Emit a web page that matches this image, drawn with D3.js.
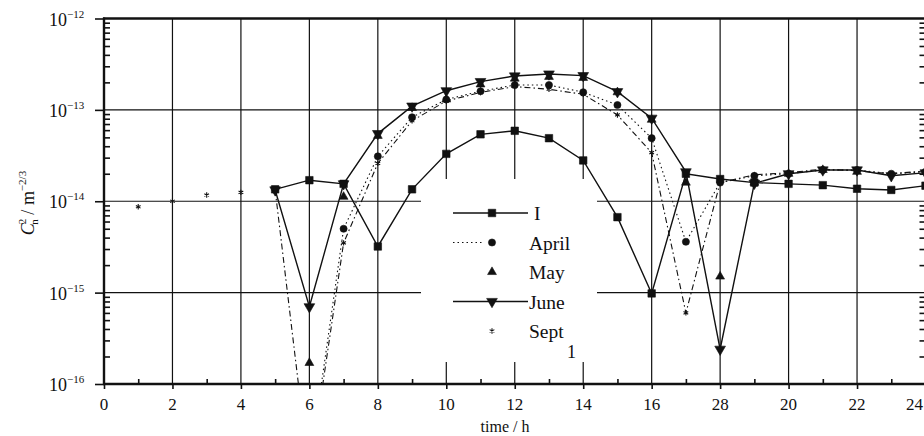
<!DOCTYPE html>
<html>
<head>
<meta charset="utf-8">
<script src="https://cdn.jsdelivr.net/npm/d3@7"></script>
<style>
  html, body { margin: 0; padding: 0; background: #fff; }
  svg { display: block; }
  text { font-family: "Liberation Serif", "DejaVu Serif", serif; fill: #111; }
</style>
</head>
<body>
<svg id="chart" width="924" height="436"></svg>
<script>
// Hour of day for each sample
const hours = d3.range(1, 25);

// Cn^2 (m^-2/3) per hour; null where no sample was taken
const seriesI    = [null, null, null, null, 1.35e-14, 1.7e-14, 1.55e-14, 3.2e-15, 1.35e-14, 3.3e-14, 5.4e-14, 5.9e-14, 4.9e-14, 2.8e-14, 6.7e-15, 9.8e-16, 2.0e-14, 1.75e-14, 1.6e-14, 1.55e-14, 1.5e-14, 1.37e-14, 1.33e-14, 1.48e-14];
const seriesApr  = [null, null, null, null, null, 1.2e-17, 5.0e-15, 3.1e-14, 8.3e-14, 1.3e-13, 1.6e-13, 1.87e-13, 1.87e-13, 1.56e-13, 1.13e-13, 4.9e-14, 3.6e-15, 1.6e-14, 1.9e-14, 2.0e-14, 2.2e-14, 2.2e-14, 2.0e-14, 2.1e-14];
const seriesMay  = [null, null, null, null, null, 1.7e-16, 1.12e-14, 5.2e-14, 1.05e-13, 1.3e-13, 1.9e-13, 2.2e-13, 2.3e-13, 2.24e-13, 1.56e-13, 7.8e-14, 1.6e-14, 1.5e-15, 1.6e-14, 2.0e-14, 2.2e-14, 2.1e-14, null, null];
const seriesJune = [null, null, null, null, 1.33e-14, 7.0e-16, 1.55e-14, 5.5e-14, 1.1e-13, 1.62e-13, 2.04e-13, 2.35e-13, 2.47e-13, 2.37e-13, 1.58e-13, 8.1e-14, 2.1e-14, 2.4e-16, 1.57e-14, 2.0e-14, 2.2e-14, 2.2e-14, 1.9e-14, 2.05e-14];
const seriesSept = [8.7e-15, 1.0e-14, 1.17e-14, 1.25e-14, 1.33e-14, 1.0e-17, 3.5e-15, 2.6e-14, 7.6e-14, 1.25e-13, 1.55e-13, 1.8e-13, 1.68e-13, 1.48e-13, 8.8e-14, 3.4e-14, 6.0e-16, 1.6e-14, 1.95e-14, 2.05e-14, 2.25e-14, 2.15e-14, 2.0e-14, 2.15e-14];

const seriesNames = ["I", "April", "May", "June", "Sept"];

// Axis ticks
const xTickValues = [0, 2, 4, 6, 8, 10, 12, 14, 16, 18, 20, 22, 24];
const xTickLabels = ["0", "2", "4", "6", "8", "10", "12", "14", "16", "28", "20", "22", "24"];
const yTickExponents = [-16, -15, -14, -13, -12];

const svg = d3.select("#chart");
const plotL = 104, plotR = 925.5, plotT = 18.5, plotB = 384;

const x = d3.scaleLinear().domain([0, 24]).range([plotL, plotR]);
const y = d3.scaleLog().domain([1e-16, 1e-12]).range([plotB, plotT]);

const styles = {
  "I":     { line: "solid",   legendLine: true,  symbol: d3.symbolSquare,   size: 56, fill: "#111" },
  "April": { line: "dotted",  legendLine: true,  symbol: d3.symbolCircle,   size: 40, fill: "#111" },
  "May":   { line: null,      legendLine: false, symbol: d3.symbolTriangle, size: 34, fill: "#111" },
  "June":  { line: "solid",   legendLine: true,  symbol: "invTriangle",     size: 50, fill: "#111" },
  "Sept":  { line: "dashdot", legendLine: false, symbol: d3.symbolAsterisk, size: 20, fill: "none" }
};
const seriesValues = [seriesI, seriesApr, seriesMay, seriesJune, seriesSept];
const series = seriesNames.map((name, i) => ({
  name,
  points: hours.map((h, j) => ({ h, v: seriesValues[i][j] })).filter(d => d.v !== null)
}));

// Grid: even hours and decades
const grid = svg.append("g").attr("stroke", "#111").attr("stroke-width", 1.2);
grid.selectAll("line.v").data(xTickValues.filter(v => v > 0)).join("line")
  .attr("x1", d => x(d)).attr("x2", d => x(d)).attr("y1", plotT).attr("y2", plotB);
grid.selectAll("line.h").data(yTickExponents.slice(1, -1)).join("line")
  .attr("x1", plotL).attr("x2", plotR).attr("y1", d => y(Math.pow(10, d))).attr("y2", d => y(Math.pow(10, d)));

// Legend panel sits over the grid
svg.append("rect").attr("x", 421).attr("y", 179).attr("width", 176).attr("height", 183).attr("fill", "#fff");

// Axes
const minorY = [];
for (let e = -16; e < -12; e++) for (let k = 2; k <= 9; k++) minorY.push(k * Math.pow(10, e));

const yMajor = svg.append("g").attr("transform", `translate(${plotL},0)`)
  .call(d3.axisLeft(y).tickValues(yTickExponents.map(e => Math.pow(10, e))).tickSize(9).tickFormat(""));
const yMinor = svg.append("g").attr("transform", `translate(${plotL},0)`)
  .call(d3.axisLeft(y).tickValues(minorY).tickSize(-6).tickFormat(""));
const yMinorR = svg.append("g").attr("transform", `translate(${plotR},0)`)
  .call(d3.axisRight(y).tickValues(minorY).tickSize(-6).tickFormat(""));
const xMajor = svg.append("g").attr("transform", `translate(0,${plotB})`)
  .call(d3.axisBottom(x).tickValues(xTickValues).tickSize(5).tickFormat(""));
const xMinor = svg.append("g").attr("transform", `translate(0,${plotB})`)
  .call(d3.axisBottom(x).tickValues(d3.range(1, 24, 2)).tickSize(-5).tickFormat(""));
[yMajor, yMinor, yMinorR, xMajor, xMinor].forEach(g => {
  g.select(".domain").remove();
  g.selectAll("line").attr("stroke", "#111").attr("stroke-width", 1.6);
});

// Frame
svg.append("line").attr("x1", plotL).attr("x2", plotL).attr("y1", plotT - 1).attr("y2", plotB + 1)
  .attr("stroke", "#111").attr("stroke-width", 2.4);
svg.append("line").attr("x1", plotL - 1).attr("x2", plotR).attr("y1", plotB).attr("y2", plotB)
  .attr("stroke", "#111").attr("stroke-width", 2.4);
svg.append("line").attr("x1", plotL - 1).attr("x2", plotR).attr("y1", plotT).attr("y2", plotT)
  .attr("stroke", "#111").attr("stroke-width", 2.4);

// Tick labels (the last one is kept inside the page edge)
svg.append("g").selectAll("text").data(xTickValues).join("text")
  .attr("x", d => d === 24 ? 923 : x(d)).attr("y", 410)
  .attr("text-anchor", d => d === 24 ? "end" : "middle").attr("font-size", 17)
  .text((d, i) => xTickLabels[i]);

const yl = svg.append("g").selectAll("text").data(yTickExponents).join("text")
  .attr("x", 49).attr("y", d => y(Math.pow(10, d)) + 7).attr("font-size", 18);
yl.append("tspan").text("10");
yl.append("tspan").attr("dy", -8).attr("font-size", 11).text(d => "\u2212" + Math.abs(d));

// Axis titles
svg.append("text").attr("x", 505).attr("y", 432).attr("text-anchor", "middle").attr("font-size", 16)
  .text("time / h");
const yt = svg.append("text").attr("transform", "translate(34,203) rotate(-90)")
  .attr("text-anchor", "middle").attr("font-size", 18);
yt.append("tspan").attr("font-style", "italic").text("C");
yt.append("tspan").attr("font-size", 11).attr("dy", -8).attr("dx", -1).text("2");
yt.append("tspan").attr("font-size", 11).attr("dy", 12).attr("dx", -6).text("n");
yt.append("tspan").attr("dy", -4).text(" / m");
yt.append("tspan").attr("font-size", 11).attr("dy", -8).text("\u22122/3");

// Data
svg.append("defs").append("clipPath").attr("id", "plotClip")
  .append("rect").attr("x", plotL).attr("y", plotT).attr("width", plotR - plotL).attr("height", plotB - plotT);
const plot = svg.append("g").attr("clip-path", "url(#plotClip)");

const dashFor = { solid: null, dotted: "1.5,3", dashdot: "6,3,1.5,3" };
const lineGen = d3.line().x(d => x(d.h)).y(d => y(d.v));

function symbolPath(st) {
  if (st.symbol === "invTriangle") return d3.symbol(d3.symbolTriangle, st.size)();
  return d3.symbol(st.symbol, st.size)();
}

series.forEach(s => {
  const st = styles[s.name];
  if (st.line) {
    const pts = s.name === "Sept" ? s.points.filter(d => d.h >= 5) : s.points;
    plot.append("path").datum(pts)
      .attr("d", lineGen).attr("fill", "none").attr("stroke", "#111")
      .attr("stroke-width", st.line === "solid" ? 1.4 : 1.1)
      .attr("stroke-dasharray", dashFor[st.line]);
  }
});
series.forEach(s => {
  const st = styles[s.name];
  plot.append("g").selectAll("path").data(s.points).join("path")
    .attr("d", symbolPath(st))
    .attr("transform", d => `translate(${x(d.h)},${y(d.v)})` + (st.symbol === "invTriangle" ? " rotate(180)" : ""))
    .attr("fill", st.fill).attr("stroke", "#111").attr("stroke-width", st.fill === "none" ? 1.1 : 0.6);
});

// Legend
const lg = svg.append("g");
seriesNames.forEach((name, i) => {
  const st = styles[name];
  const cy = 213 + i * 29.5;
  if (st.legendLine) {
    lg.append("line").attr("x1", 453).attr("x2", st.line === "dotted" ? 482 : 528).attr("y1", cy).attr("y2", cy)
      .attr("stroke", "#111").attr("stroke-width", st.line === "solid" ? 1.4 : 1.1)
      .attr("stroke-dasharray", dashFor[st.line]);
  }
  lg.append("path").attr("d", symbolPath(st))
    .attr("transform", `translate(492,${cy})` + (st.symbol === "invTriangle" ? " rotate(180)" : ""))
    .attr("fill", st.fill).attr("stroke", "#111").attr("stroke-width", st.fill === "none" ? 1.1 : 0.6);
  lg.append("text").attr("x", name === "I" ? 534 : 529).attr("y", cy + 7).attr("font-size", 19.5).text(name);
});
svg.append("text").attr("x", 567).attr("y", 358).attr("font-size", 18).text("1");
</script>
</body>
</html>
